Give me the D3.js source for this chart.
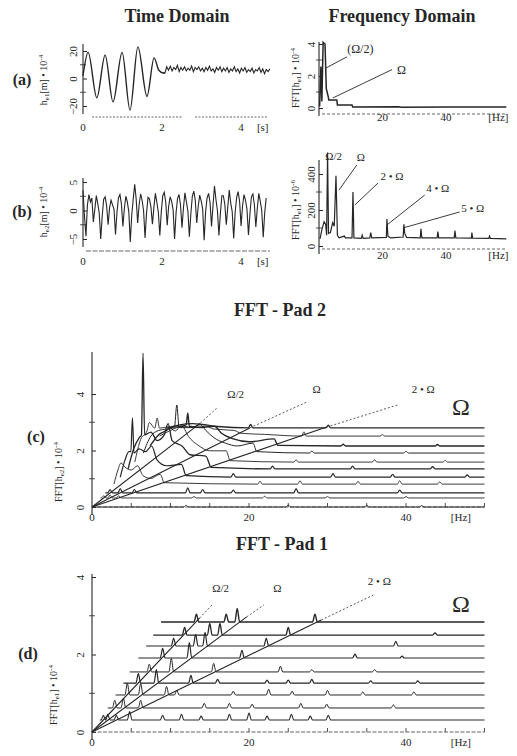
<!DOCTYPE html>
<html>
<head>
<meta charset="utf-8">
<script src="https://cdn.jsdelivr.net/npm/d3@7"></script>
<style>
body { margin: 0; background: #fff; }
svg { display: block; font-family: "Liberation Serif", "DejaVu Serif", serif; }
</style>
</head>
<body>
<svg id="fig" width="517" height="756"></svg>
<script>
// ---------- data ----------
var timeTicks = [0, 2, 4];
var timeATicksY = [-20, 0, 20];
var timeBTicksY = [-5, 0, 5];
var freqTicksX = [20, 40];
var freqATicksY = [0, 2, 4];
var freqBTicksY = [0, 200, 400];
var padTicksX = [0, 20, 40];
var padTicksY = [0, 2, 4];

// (a) time signal: big swings, then a small ripple
var timeASwing = [[0, 2], [0.13, 19], [0.35, -14], [0.56, 17], [0.76, -17], [0.99, 19], [1.19, -23],
    [1.39, 23], [1.62, -13], [1.8, 15], [1.92, 6], [2.03, 4]];
var timeATailStep = 0.045;
var timeATail = [4, 8.5, 6, 9, 5.5, 8, 6.5, 9.5, 5, 8, 6, 8.5, 5.5, 7.5, 6, 9, 5, 8, 6.5, 8.5,
    5.5, 7.5, 5, 8, 6, 9, 5.5, 7, 4.5, 8, 6, 8.5, 5, 7.5, 5.5, 8, 4.5, 7, 5.5, 8.5,
    5, 7, 4, 7.5, 5.5, 8, 4.5, 6.5, 5, 7.5, 4, 6.5, 5.5, 8, 4.5, 7, 3.5, 6.5, 5, 7];

// (b) time signal
var timeBStep = 0.0374;
var timeB = [3.5, -1.0, -4.5, 1.0, 2.8, 1.5, 2.2, -2.0, 0.2, 2.6, 1.2, -0.5, -5.0, -1.0, 2.0,
    2.4, 0.8, -2.5, 0.5, 1.8, 1.0, 0.2, -4.2, -0.3, 2.2, 2.8, 1.2, -2.8, 0.4, 2.5,
    1.5, -0.2, -5.5, -0.8, 2.0, 4.6, 2.0, -2.2, 1.0, 2.9, 1.8, 0.0, -4.8, -0.5, 2.3,
    2.0, 0.6, -2.4, 0.6, 3.0, 1.4, -0.3, -4.4, -0.2, 2.6, 3.2, 1.5, -2.6, 0.8, 2.4,
    1.6, 0.1, -5.0, -0.4, 2.1, 2.8, 1.0, -3.0, 0.5, 3.1, 1.5, -0.1, -4.6, -0.6, 2.5,
    3.4, 1.8, -2.2, 0.7, 2.7, 1.7, 0.3, -5.2, -0.2, 2.2, 3.0, 1.4, -2.8, 0.9, 4.3,
    1.9, 0.0, -4.4, -0.5, 2.6, 2.6, 1.1, -2.5, 0.6, 3.6, 1.3, -0.2, -4.9, -0.3, 2.3,
    3.3, 1.6, -2.7, 0.8, 2.8, 1.8, 0.2, -4.3, -0.6, 2.4, 2.9, 1.0, -2.9, 0.4, 3.0,
    1.6, 0.0, -4.7, -0.4, 2.2];

// (a) spectrum [Hz, amplitude]
var freqA = [[0.2, 0.1], [0.6, 2.6], [0.9, 0.4], [1.3, 4.1], [1.9, 4.0], [2.3, 1.2], [2.8, 0.8],
    [3.1, 0.5], [5.6, 0.5], [5.8, 0.18], [10.4, 0.18], [10.6, 0.06], [25, 0.08], [26, 0.05],
    [40, 0.07], [59, 0.06]];

// (b) spectrum [Hz, amplitude]
var freqB = [[0.3, 40], [0.9, 90], [1.6, 135], [2.1, 120], [2.4, 60], [2.7, 520], [3.0, 70],
    [3.6, 75], [4.3, 130], [4.8, 110], [5.35, 390], [5.8, 60], [6.3, 45], [8.0, 55], [8.3, 45],
    [10.4, 45], [10.7, 300], [11.0, 45], [13.3, 42], [13.6, 60], [13.9, 42], [16.0, 45],
    [16.3, 75], [16.6, 45], [21.2, 48], [21.4, 150], [21.7, 55], [22.5, 45], [26.5, 50],
    [26.75, 120], [27.0, 70], [27.6, 48], [31.9, 45], [32.1, 95], [32.4, 45], [37.2, 45],
    [37.45, 80], [37.7, 45], [42.6, 45], [42.8, 85], [43.1, 45], [48.0, 44], [48.15, 75],
    [48.4, 44], [53.5, 42], [53.7, 55], [54, 42], [59, 40]];
var freqBNotes = ["Ω", "2 • Ω", "4 • Ω", "5 • Ω"];
var freqBNoteFrom = [[6.3, 311], [11.3, 228], [21.4, 117], [26.4, 100]];
var freqBNoteTo = [[11.9, 450], [18.6, 350], [33.3, 283], [44.3, 189]];
var freqBNoteAt = [[13.2, 470], [23.0, 365], [37.4, 300], [48.4, 190]];

// (c) FFT - Pad 2 waterfall
var padTwoBase = [0, 0.32, 0.5, 0.81, 1.06, 1.35, 1.59, 1.91, 2.16, 2.51, 2.8];
var padTwoStart = [0, 1.1, 1.7, 2.8, 3.6, 4.6, 5.45, 6.55, 7.4, 8.6, 9.6];
var padTwoHills = [
    [], [], [],
    [[3.3, 0.5], [3.7, 0.75], [4.2, 0.6], [5.0, 0.5], [5.8, 0.65], [6.5, 0.3], [7.5, 0.2], [8.7, 0.35], [9.2, 0.05]],
    [[4.2, 0.6], [4.7, 0.9], [4.95, 0.9], [5.15, 2.1], [5.35, 0.85], [6.0, 1.0], [6.8, 0.9], [7.6, 1.1], [8.3, 0.6], [9.5, 0.4], [11.4, 0.45], [12, 0.05]],
    [[5.3, 0.7], [6.0, 1.1], [6.3, 1.2], [6.5, 4.1], [6.7, 1.2], [7.5, 1.3], [8.3, 1.0], [9.2, 1.2], [9.7, 1.6], [10.2, 1.0], [11.5, 0.8], [12.5, 0.5], [14.5, 0.45], [15.2, 0.05]],
    [[6.2, 0.8], [7.0, 1.1], [7.3, 1.4], [8.0, 1.2], [8.3, 1.56], [8.6, 1.2], [9.8, 1.25], [10.6, 1.1], [11.4, 1.3], [12.3, 0.9], [13.5, 0.6], [15, 0.4], [17.1, 0.4], [17.6, 0.05]],
    [[7.5, 0.6], [8.5, 0.8], [9.5, 0.85], [10.5, 0.9], [10.8, 1.7], [11.1, 0.9], [12.5, 0.9], [13.8, 1.0], [14.5, 0.8], [15.5, 0.55], [17, 0.35], [18.5, 0.25], [20.5, 0.35], [21, 0.05]],
    [[8.5, 0.4], [9.5, 0.55], [10.0, 0.65], [11.5, 0.7], [12.0, 0.75], [12.2, 1.17], [12.4, 0.7], [14, 0.65], [15.6, 0.7], [16.5, 0.45], [18, 0.25], [20, 0.15], [23.2, 0.25], [23.7, 0.02]],
    [[10, 0.2], [11.6, 0.35], [13, 0.3], [14.5, 0.35], [15.5, 0.25], [18.1, 0.2], [19, 0.1], [22, 0.06]],
    [[11, 0.1], [12.9, 0.15], [14, 0.12], [16, 0.05]]
];
var padTwoPeaks = [
    [[12, 0.06], [25, 0.07], [35, 0.06], [42, 0.05]],
    [[1.5, 0.08], [2.3, 0.1], [3.4, 0.08], [13, 0.05], [22, 0.06], [30, 0.05], [40, 0.05]],
    [[2.3, 0.12], [3.6, 0.15], [5.4, 0.12], [12.2, 0.18], [14.1, 0.12], [18, 0.1], [26, 0.15], [39.2, 0.1]],
    [[21.4, 0.1], [26.5, 0.12], [33.9, 0.1], [39.2, 0.12], [44.3, 0.08]],
    [[18, 0.12], [30.7, 0.12], [38.3, 0.1], [47.8, 0.08]],
    [[23, 0.1], [33.2, 0.1], [43.4, 0.08]],
    [[26, 0.08], [36, 0.08], [45, 0.06]],
    [[28, 0.07], [40, 0.06]],
    [[32, 0.06], [44, 0.05]],
    [[27, 0.15], [37, 0.05]],
    [[20.2, 0.12], [30.1, 0.1]]
];
var padTwoLines = ["Ω/2", "Ω", "2 • Ω"];
var padTwoSolidEnd = [[13.8, 2.97], [20.1, 2.8], [29.9, 2.83]];
var padTwoDashEnd = [[15.9, 3.5], [27.4, 3.72], [38.9, 3.61]];
var padTwoLabelAt = [[18.3, 3.86], [28.6, 4.04], [42.2, 4.04]];

// (d) FFT - Pad 1 waterfall
var padOneBase = [0.31, 0.62, 0.955, 1.26, 1.55, 1.91, 2.22, 2.5, 2.84];
var padOneStart = [1.0, 2.0, 3.0, 4.0, 4.8, 5.9, 6.9, 7.8, 8.8];
var padOnePeaks = [
    [[1.46, 0.12], [2.0, 0.15], [3.1, 0.12], [4.8, 0.22], [9, 0.12], [11.4, 0.15], [13.9, 0.1], [17.5, 0.15], [20, 0.18], [22.3, 0.1], [25.4, 0.15], [27.8, 0.1], [30.1, 0.12]],
    [[2.9, 0.2], [4.0, 0.25], [6.2, 0.2], [14.3, 0.12], [17.5, 0.12], [20.4, 0.1], [26.6, 0.12], [29.9, 0.1], [38.4, 0.08]],
    [[4.5, 0.3], [6.2, 0.3], [9.5, 0.22], [10.8, 0.12], [18, 0.1], [22.5, 0.15], [25.5, 0.1], [30, 0.12], [34.5, 0.08], [41, 0.08]],
    [[5.9, 0.25], [8.2, 0.35], [12.6, 0.2], [16, 0.1], [22.3, 0.08], [25, 0.08], [28, 0.1], [35.5, 0.06], [41.5, 0.06]],
    [[7.3, 0.2], [10.1, 0.35], [15.5, 0.22], [24, 0.15], [28, 0.06], [36, 0.06]],
    [[9.0, 0.25], [12.4, 0.4], [19.1, 0.2], [33.5, 0.1], [39.5, 0.05]],
    [[10.4, 0.2], [13.2, 0.3], [14.4, 0.35], [22.2, 0.2], [38.7, 0.12]],
    [[11.8, 0.2], [15.0, 0.3], [16.3, 0.3], [25.0, 0.2], [43.7, 0.06]],
    [[13.3, 0.2], [17.1, 0.2], [18.5, 0.35], [28.4, 0.2]]
];
var padOneLines = ["Ω/2", "Ω", "2 • Ω"];
var padOneSolidEnd = [[13.7, 2.94], [19.7, 2.97], [29.2, 2.89]];
var padOneDashEnd = [[15.3, 3.28], [21.9, 3.28], [36.0, 3.55]];
var padOneLabelAt = [[16.4, 3.62], [23.6, 3.62], [36.6, 3.8]];

// ---------- drawing ----------
var ink = "#262626";
var svg = d3.select("#fig");

var tX = d3.scaleLinear().domain([0, 4]).range([83, 241]);
var yTA = d3.scaleLinear().domain([-20, 20]).range([106, 51]);
var yTB = d3.scaleLinear().domain([-5, 5]).range([239, 182]);
var fX = d3.scaleLinear().domain([0, 40]).range([319, 446]);
var yFA = d3.scaleLinear().domain([0, 4]).range([108, 44]);
var yFB = d3.scaleLinear().domain([0, 400]).range([246, 174]);
var pX = d3.scaleLinear().domain([0, 40]).range([92, 406]);
var yC = d3.scaleLinear().domain([0, 4]).range([507, 394]);
var yD = d3.scaleLinear().domain([0, 4]).range([732, 577]);

function title(x, y, s, size) {
    svg.append("text").attr("x", x).attr("y", y).attr("text-anchor", "middle")
        .attr("font-weight", "bold").attr("font-size", size).attr("fill", ink).text(s);
}

function tag(x, y, s) {
    svg.append("text").attr("x", x).attr("y", y).attr("text-anchor", "middle")
        .attr("font-weight", "bold").attr("font-size", 16).attr("fill", ink).text(s);
}

// rotated axis title like FFT[h e1] • 10^-4
function yTitle(x, y, pre, sub, post, exp) {
    var t = svg.append("text").attr("transform", "translate(" + x + "," + y + ") rotate(-90)")
        .attr("text-anchor", "middle").attr("font-size", 10).attr("fill", ink);
    t.append("tspan").text(pre);
    t.append("tspan").attr("font-size", 7).attr("dy", 2).text(sub);
    t.append("tspan").attr("dy", -2).text(post);
    t.append("tspan").attr("font-size", 7).attr("dy", -4).text(exp);
}

function yAxis(x, scale, ticks, minor, top, shift) {
    var g = svg.append("g").attr("transform", "translate(" + x + ",0)");
    var ax = d3.axisLeft(scale).tickValues(ticks).tickFormat(d3.format("~g"))
        .tickSize(5).tickSizeOuter(0);
    g.call(ax);
    g.select(".domain").remove();
    g.append("line").attr("y1", scale.range()[0] + 8).attr("y2", top)
        .attr("stroke", ink).attr("stroke-width", 1.1);
    g.selectAll(".tick line").attr("stroke", ink).attr("x2", 4);
    g.selectAll(".tick text").attr("fill", ink).attr("font-size", 11)
        .attr("font-family", "Liberation Serif, serif")
        .attr("x", 0).attr("dy", 0).attr("text-anchor", "middle")
        .attr("dominant-baseline", "central")
        .attr("transform", "translate(" + (-shift) + ",0) rotate(-90)");
    g.selectAll(".minor").data(minor).enter().append("line")
        .attr("x1", -3).attr("x2", 3)
        .attr("y1", function(d) { return scale(d); })
        .attr("y2", function(d) { return scale(d); })
        .attr("stroke", ink).attr("stroke-width", 0.8);
}

function xLabels(scale, ticks, y, unit, unitAt) {
    svg.selectAll(null).data(ticks).enter().append("text")
        .attr("x", function(d) { return scale(d); }).attr("y", y)
        .attr("text-anchor", "middle").attr("font-size", 11).attr("fill", ink)
        .text(function(d) { return d; });
    svg.append("text").attr("x", scale(unitAt)).attr("y", y).attr("text-anchor", "middle")
        .attr("font-size", 11).attr("fill", ink).text(unit);
}

function baseLine(x1, x2, y, dash) {
    svg.append("line").attr("x1", x1).attr("x2", x2).attr("y1", y).attr("y2", y)
        .attr("stroke", "#555").attr("stroke-width", 0.9).attr("stroke-dasharray", dash);
}

// titles
title(177, 22, "Time Domain", 18);
title(402, 22, "Frequency Domain", 18);
title(280, 316, "FFT - Pad 2", 18);
title(282, 550, "FFT - Pad 1", 18);

tag(22, 85, "(a)");
tag(22, 217, "(b)");
tag(36, 442, "(c)");
tag(28, 659, "(d)");

// ----- (a) time -----
yAxis(83, yTA, timeATicksY, [-10, 10], 44, 10);
baseLine(92, 182, 117, "2,1.5");
baseLine(195, 268, 117, "2,1.5");
xLabels(tX, timeTicks, 131, "[s]", 4.55);
yTitle(47, 80, "h", "e1", "[m] • 10", "-4");

var tailA = timeATail.map(function(v, i) { return [2.03 + (i + 1) * timeATailStep, v]; });
svg.append("path").datum(timeASwing.concat(tailA.slice(0, 1)))
    .attr("fill", "none").attr("stroke", ink).attr("stroke-width", 1.4)
    .attr("d", d3.line().x(function(d) { return tX(d[0]); }).y(function(d) { return yTA(d[1]); })
        .curve(d3.curveMonotoneX));
svg.append("path").datum([timeASwing[timeASwing.length - 1]].concat(tailA))
    .attr("fill", "none").attr("stroke", ink).attr("stroke-width", 1.1)
    .attr("d", d3.line().x(function(d) { return tX(d[0]); }).y(function(d) { return yTA(d[1]); }));

// ----- (b) time -----
yAxis(83, yTB, timeBTicksY, [-2.5, 2.5], 178, 10);
baseLine(86, 270, 251, "5,1.5");
xLabels(tX, timeTicks, 265, "[s]", 4.55);
yTitle(47, 212, "h", "e2", "[m] • 10", "-4");
svg.append("path").datum(timeB)
    .attr("fill", "none").attr("stroke", ink).attr("stroke-width", 1.1)
    .attr("d", d3.line().x(function(d, i) { return tX(i * timeBStep); }).y(function(d) { return yTB(d); }));

// ----- (a) spectrum -----
yAxis(319, yFA, freqATicksY, [1, 3], 42, 8);
baseLine(322, 505, 114, "3,2");
xLabels(fX, freqTicksX, 121, "[Hz]", 56.5);
yTitle(299, 78, "FFT[h", "e1", "] • 10", "-4");
svg.append("path").datum(freqA)
    .attr("fill", "none").attr("stroke", ink).attr("stroke-width", 1.5)
    .attr("d", d3.line().x(function(d) { return fX(d[0]); }).y(function(d) { return yFA(d[1]); }));

svg.append("line").attr("x1", fX(2.2)).attr("y1", yFA(2.5)).attr("x2", fX(8.8)).attr("y2", yFA(3.2))
    .attr("stroke", ink).attr("stroke-width", 0.9);
svg.append("text").attr("x", fX(13)).attr("y", yFA(3.45)).attr("font-size", 12).attr("fill", ink)
    .attr("text-anchor", "middle").text("(Ω/2)");
svg.append("line").attr("x1", fX(4.4)).attr("y1", yFA(0.63)).attr("x2", fX(23)).attr("y2", yFA(2.4))
    .attr("stroke", ink).attr("stroke-width", 0.9);
svg.append("text").attr("x", fX(26)).attr("y", yFA(2.15)).attr("font-size", 12).attr("fill", ink)
    .attr("text-anchor", "middle").text("Ω");

// ----- (b) spectrum -----
yAxis(319, yFB, freqBTicksY, [100, 300], 160, 8);
baseLine(322, 505, 249, "3,2");
xLabels(fX, freqTicksX, 259, "[Hz]", 56.5);
yTitle(299, 210, "FFT[h", "e1", "] • 10", "-6");
svg.append("path").datum(freqB)
    .attr("fill", "none").attr("stroke", ink).attr("stroke-width", 1.2)
    .attr("d", d3.line().x(function(d) { return fX(d[0]); }).y(function(d) { return yFB(d[1]); }));
svg.append("text").attr("x", fX(4.6)).attr("y", yFB(480)).attr("font-size", 11).attr("fill", ink)
    .attr("text-anchor", "middle").text("Ω/2");
freqBNotes.forEach(function(s, i) {
    svg.append("line").attr("x1", fX(freqBNoteFrom[i][0])).attr("y1", yFB(freqBNoteFrom[i][1]))
        .attr("x2", fX(freqBNoteTo[i][0])).attr("y2", yFB(freqBNoteTo[i][1]))
        .attr("stroke", ink).attr("stroke-width", 0.9);
    svg.append("text").attr("x", fX(freqBNoteAt[i][0])).attr("y", yFB(freqBNoteAt[i][1]))
        .attr("font-size", 11).attr("fill", ink).attr("text-anchor", "middle").text(s);
});

// ----- waterfalls -----
function traceVerts(start, hill, peaks) {
    var v = [[start, 0]].concat(hill);
    peaks.forEach(function(p) { v.push([p[0] - 0.3, 0], p, [p[0] + 0.3, 0]); });
    v.push([50, 0]);
    return v.sort(function(a, b) { return a[0] - b[0]; });
}

function waterfall(yS, bases, starts, hills, peaks, widths) {
    bases.forEach(function(b, k) {
        var verts = traceVerts(starts[k], hills ? hills[k] : [], peaks[k]);
        svg.append("path").datum(verts)
            .attr("fill", "none").attr("stroke", ink).attr("stroke-width", widths[k % widths.length])
            .attr("stroke-linejoin", "round")
            .attr("d", d3.line().x(function(d) { return pX(d[0]); }).y(function(d) { return yS(b + d[1]); })
                .curve(d3.curveMonotoneX));
    });
}

function diagonals(yS, names, solid, dash, at) {
    names.forEach(function(s, i) {
        svg.append("line").attr("x1", pX(0)).attr("y1", yS(0))
            .attr("x2", pX(solid[i][0])).attr("y2", yS(solid[i][1]))
            .attr("stroke", ink).attr("stroke-width", 1.1);
        svg.append("line").attr("x1", pX(solid[i][0])).attr("y1", yS(solid[i][1]))
            .attr("x2", pX(dash[i][0])).attr("y2", yS(dash[i][1]))
            .attr("stroke", "#444").attr("stroke-width", 0.9).attr("stroke-dasharray", "2,2");
        svg.append("text").attr("x", pX(at[i][0])).attr("y", yS(at[i][1]))
            .attr("font-size", 11).attr("fill", ink).attr("text-anchor", "middle").text(s);
    });
}

function padAxes(yS, top, labelY, baseY) {
    yAxis(92, yS, padTicksY, [1, 3], top, 12);
    svg.selectAll(null).data(d3.range(5, 51, 5)).enter().append("line")
        .attr("x1", function(d) { return pX(d); }).attr("x2", function(d) { return pX(d); })
        .attr("y1", baseY).attr("y2", baseY - 4)
        .attr("stroke", ink).attr("stroke-width", 0.8);
    baseLine(92, pX(50), baseY, "4,1.5");
    xLabels(pX, padTicksX, labelY, "[Hz]", 47);
}

// (c)
padAxes(yC, 352, 521, 507);
yTitle(62, 472, "FFT[h", "e2", "] • 10", "-4");
waterfall(yC, padTwoBase, padTwoStart, padTwoHills, padTwoPeaks, [1.0, 0.9, 1.2, 0.9, 1.2, 1.3, 0.9, 1.0, 1.4, 0.9, 1.3]);
diagonals(yC, padTwoLines, padTwoSolidEnd, padTwoDashEnd, padTwoLabelAt);
svg.append("text").attr("x", pX(47)).attr("y", yC(3.25)).attr("font-size", 24).attr("fill", ink)
    .attr("text-anchor", "middle").text("Ω");

// (d)
padAxes(yD, 574, 746, 732);
yTitle(57, 695, "FFT[h", "e1", "] • 10", "-4");
waterfall(yD, padOneBase, padOneStart, null, padOnePeaks, [1.1, 1.0, 1.0, 1.2, 1.0, 1.2, 1.2, 1.3, 1.4]);
diagonals(yD, padOneLines, padOneSolidEnd, padOneDashEnd, padOneLabelAt);
svg.append("text").attr("x", pX(47)).attr("y", yD(3.1)).attr("font-size", 24).attr("fill", ink)
    .attr("text-anchor", "middle").text("Ω");
</script>
</body>
</html>
